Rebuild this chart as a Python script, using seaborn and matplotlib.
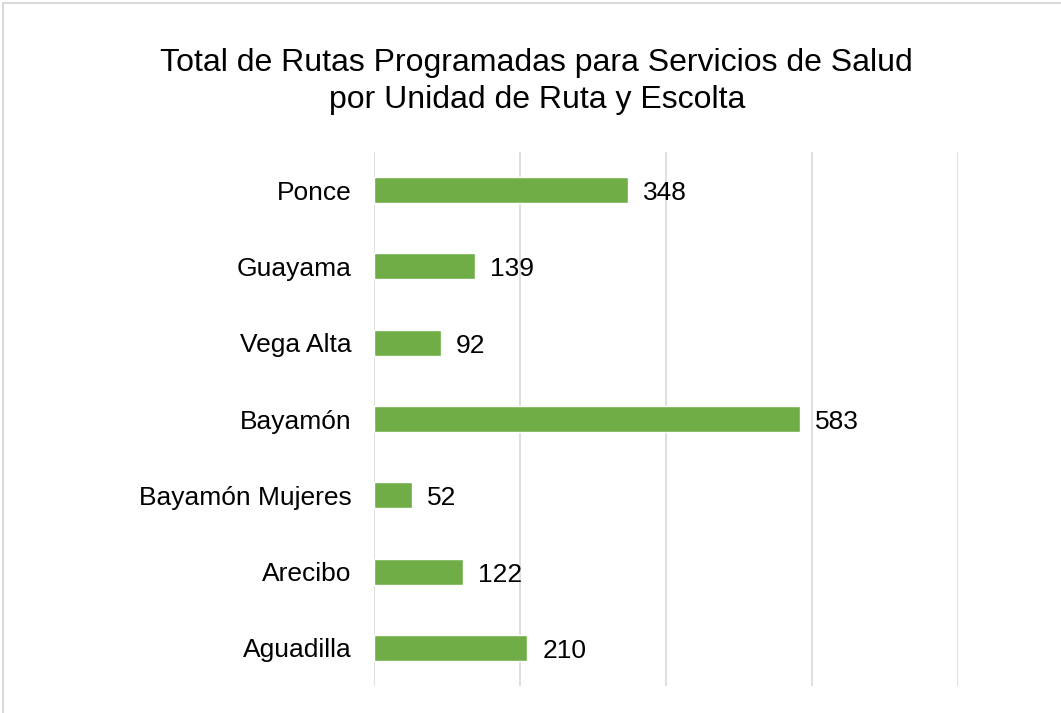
import matplotlib
matplotlib.use("Agg")
import matplotlib.pyplot as plt
import seaborn as sns
import pandas as pd
from matplotlib.patches import Rectangle

categories = ["Ponce", "Guayama", "Vega Alta", "Bayamón", "Bayamón Mujeres", "Arecibo", "Aguadilla"]
values = [348, 139, 92, 583, 52, 122, 210]
title = "Total de Rutas Programadas para Servicios de Salud\npor Unidad de Ruta y Escolta"

sns.set_theme(style="white")
plt.rcParams['font.family'] = ['Liberation Sans', 'DejaVu Sans']

df = pd.DataFrame({"cat": categories, "val": values})

fig = plt.figure(figsize=(10.61, 7.13), dpi=100)
ax = fig.add_axes([374/1061, 1-686/713, (958-374)/1061, (686-152)/713])

sns.barplot(data=df, y="cat", x="val", orient="h", color="#70AD47", width=0.34,
            saturation=1, ax=ax, order=categories)

ax.set_xlim(0, 800)
ax.set_ylim(6.5, -0.5)
ax.set_xticks([0, 200, 400, 600, 800])
ax.xaxis.grid(True, color="#D9D9D9", linewidth=1.2)
ax.set_axisbelow(True)
ax.tick_params(axis="x", labelbottom=False, length=0)
ax.tick_params(axis="y", length=0, labelsize=19, pad=16, colors="black")
for s in ax.spines.values():
    s.set_visible(False)
ax.set_xlabel("")
ax.set_ylabel("")

for i, v in enumerate(values):
    ax.annotate(str(v), (v, i), xytext=(15, -3), textcoords="offset pixels",
                va="center", ha="left", fontsize=19, color="black")

fig.text(0.506, 0.886, title, ha="center", va="center", fontsize=23, color="black",
         linespacing=1.32)

fig.patches.append(Rectangle((3/1061, -0.1), 1.2, 1 - 3/713 + 0.1, transform=fig.transFigure,
                             fill=False, edgecolor="#D9D9D9", linewidth=1.5))

fig.savefig("out.png", dpi=100, facecolor="white")
